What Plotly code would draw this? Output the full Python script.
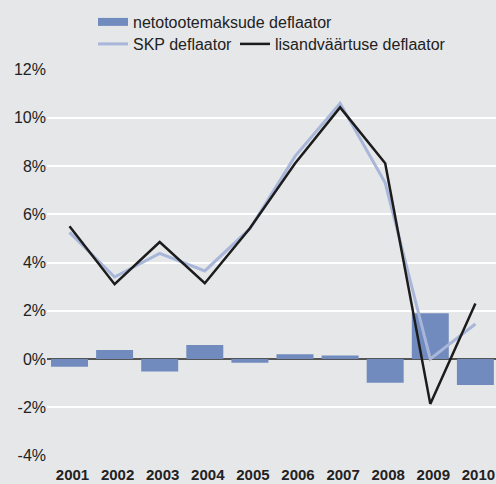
import plotly.graph_objects as go

years = ["2001", "2002", "2003", "2004", "2005", "2006", "2007", "2008", "2009", "2010"]
netotootemaksude = [-0.32, 0.37, -0.52, 0.58, -0.15, 0.2, 0.15, -0.98, 1.9, -1.08]
skp = [5.25, 3.4, 4.38, 3.65, 5.4, 8.4, 10.6, 7.3, 0.0, 1.45]
lisandvaartuse = [5.5, 3.1, 4.85, 3.14, 5.42, 8.1, 10.43, 8.11, -1.86, 2.3]
y_ticks = [-4, -2, 0, 2, 4, 6, 8, 10, 12]
y_tick_labels = ["-4%", "-2%", "0%", "2%", "4%", "6%", "8%", "10%", "12%"]

BG = "#e6e7e9"
BAR = "#728bbe"
SKP = "#a8b6d9"
BLACK = "#1c1c1c"
TXT = "#222222"
FONT = "Liberation Sans, Arial, sans-serif"

fig = go.Figure()
fig.add_trace(go.Bar(x=years, y=netotootemaksude, marker_color=BAR, marker_line_width=0,
                     name="netotootemaksude deflaator", showlegend=False))
# legend proxy for the bar series (wide rectangle symbol)
fig.add_trace(go.Scatter(x=[years[0]], y=[None], mode="lines", line=dict(color=BAR, width=8),
                         name="netotootemaksude deflaator", legend="legend"))
fig.add_trace(go.Scatter(x=years, y=skp, mode="lines", line=dict(color=SKP, width=3),
                         name="SKP deflaator", legend="legend2"))
fig.add_trace(go.Scatter(x=years, y=lisandvaartuse, mode="lines", line=dict(color=BLACK, width=2.5),
                         name="lisandväärtuse deflaator", legend="legend3"))

leg_common = dict(xref="container", yref="container", xanchor="left", yanchor="top",
                  orientation="h", bgcolor="rgba(0,0,0,0)", font=dict(size=16, color=TXT))

fig.update_layout(
    width=496, height=484,
    margin=dict(l=47, r=0, t=69, b=28),
    paper_bgcolor=BG, plot_bgcolor=BG,
    font=dict(family=FONT, size=16, color=TXT),
    bargap=0.18,
    legend=dict(x=93 / 496, y=1 - 5 / 484, **leg_common),
    legend2=dict(x=93 / 496, y=1 - 27 / 484, **leg_common),
    legend3=dict(x=235 / 496, y=1 - 27 / 484, **leg_common),
    xaxis=dict(type="category", range=[-0.499, 9.457], showgrid=False, zeroline=False,
               showline=False, ticks="", ticklabelstandoff=8, ticklabelshift=3,
               tickfont=dict(family=FONT, size=15, color=TXT, weight="bold")),
    yaxis=dict(range=[-4.02, 12.02], tickvals=y_ticks, ticktext=y_tick_labels,
               showgrid=True, gridcolor="#ffffff", gridwidth=1.5,
               zeroline=True, zerolinecolor="#555555", zerolinewidth=1.8,
               showline=False, ticks="", tickfont=dict(size=16, color=TXT)),
)

fig.write_html("out.html", config={"displayModeBar": False},
               post_script="document.body.style.margin='0';document.body.style.overflow='hidden';")
